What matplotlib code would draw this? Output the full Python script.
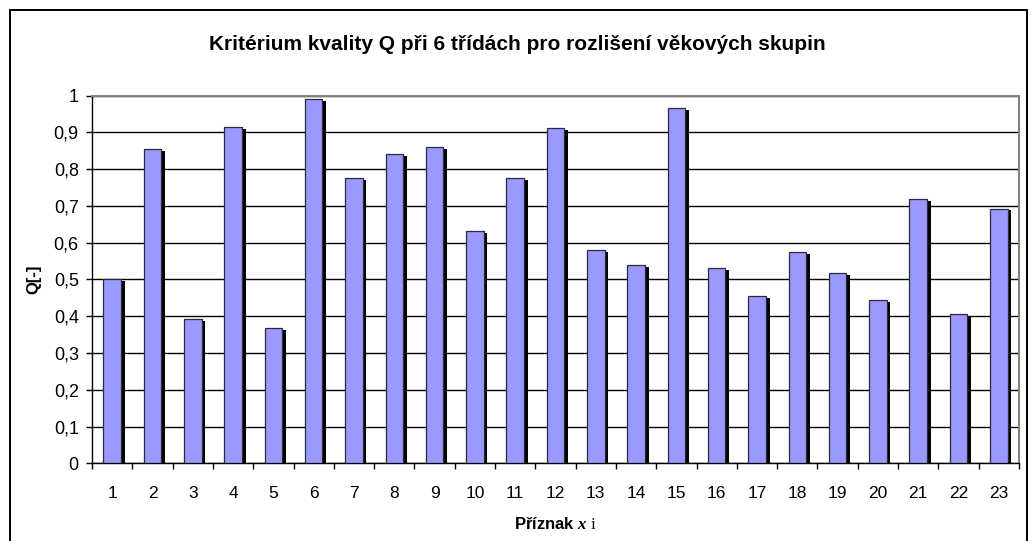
import numpy as np
import matplotlib
matplotlib.use("Agg")
import matplotlib.pyplot as plt
import matplotlib.patheffects as pe
from matplotlib.patches import Rectangle
from matplotlib.ticker import FixedLocator, FuncFormatter

plt.rcParams['font.family'] = ['Liberation Sans', 'DejaVu Sans']
plt.rcParams['mathtext.fontset'] = 'custom'
plt.rcParams['mathtext.rm'] = 'Liberation Serif'
plt.rcParams['mathtext.it'] = 'Liberation Serif:italic:bold'

# Q criterion for each feature
features = list(range(1, 24))
q_values = [0.502, 0.855, 0.393, 0.916, 0.368, 0.99, 0.775, 0.842, 0.861, 0.632,
            0.777, 0.913, 0.58, 0.54, 0.967, 0.531, 0.455, 0.575, 0.518, 0.445,
            0.72, 0.407, 0.693]
title = 'Kritérium kvality Q při 6 třídách pro rozlišení věkových skupin'

fig = plt.figure(figsize=(10.32, 5.41), dpi=100)
ax = fig.add_axes([92/1032, 1 - 463.3/541, 927/1032, (463.3 - 95.7)/541])

# outer frame of the chart (bottom edge falls outside the picture)
fig.patches.append(Rectangle((10/1032, -0.1), 1017/1032, 1.1 - 10/541,
                             transform=fig.transFigure, fill=False,
                             edgecolor='black', lw=1.4))

x = np.array(features)
bars = ax.bar(x, q_values, width=0.435, color='#9999FF', edgecolor='#2a2a3a',
              lw=0.9, zorder=3)
for b in bars:
    b.set_path_effects([pe.SimplePatchShadow(offset=(2.7, -1.4), shadow_rgbFace='black', alpha=1),
                        pe.Normal()])

ax.set_xlim(0.5, 23.5)
ax.set_ylim(0, 1)
ax.yaxis.set_major_locator(FixedLocator(np.arange(0, 1.01, 0.1)))
ax.yaxis.set_major_formatter(FuncFormatter(lambda v, p: ('%g' % round(v, 1)).replace('.', ',')))
ax.grid(axis='y', color='black', lw=1.0, zorder=1)

ax.xaxis.set_major_locator(FixedLocator(np.arange(0.5, 23.6, 1)))
ax.xaxis.set_major_formatter(FuncFormatter(lambda v, p: ''))
ax.xaxis.set_minor_locator(FixedLocator(x))
ax.set_xticklabels([str(f) for f in features], minor=True)
ax.tick_params(axis='x', which='major', length=4, width=1, color='black', direction='out')
ax.tick_params(axis='x', which='minor', length=0, pad=16, labelsize=12.5)
ax.tick_params(axis='y', length=4, width=1, direction='out', pad=5.5, labelsize=13)

for s in ['top', 'right']:
    ax.spines[s].set_color('#808080')
    ax.spines[s].set_linewidth(1.4)
for s in ['left', 'bottom']:
    ax.spines[s].set_color('black')
    ax.spines[s].set_linewidth(1.0)
ax.spines['top'].set_zorder(4)

fig.text(517/1032, 1 - 45/541, title, ha='center', va='center',
         fontsize=15, fontweight='bold')
fig.text(34/1032, 1 - 279.5/541, 'Q[-]', ha='center', va='center', rotation=90,
         fontsize=12, fontweight='bold')
fig.text(555/1032, 1 - 524/541, r'Příznak $\mathit{x}\ \mathrm{i}$', ha='center', va='center',
         fontsize=12, fontweight='bold')

fig.savefig('out.png', dpi=100)
